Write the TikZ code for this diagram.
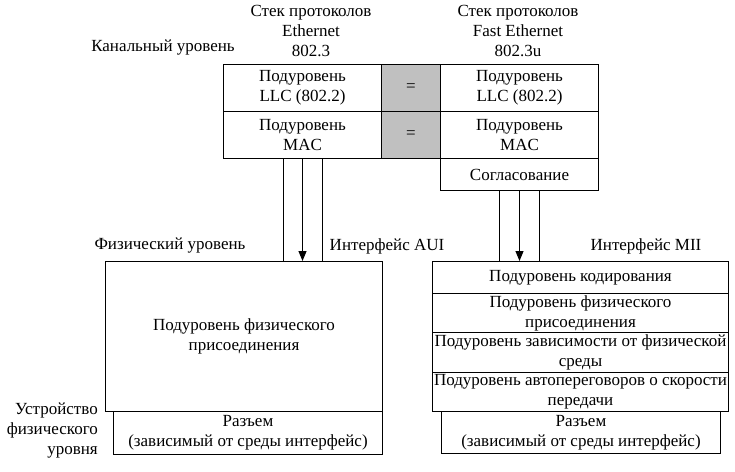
\documentclass[tikz,border=0pt]{standalone}
\usepackage{fontspec}
\setmainfont{Liberation Serif}
\usetikzlibrary{arrows.meta}
\definecolor{eqgray}{RGB}{192,192,192}
\begin{document}
\begin{tikzpicture}[x=1pt,y=-1pt,
  every node/.style={font=\fontsize{17}{20}\selectfont, text=black},
  box/.style={draw=black, line width=1pt, inner sep=0pt, anchor=north west},
  eqbox/.style={box, fill=eqgray},
  txt/.style={align=center, inner sep=0pt},
  wire/.style={draw=black, line width=1pt},
  arr/.style={wire, -{Triangle[width=8pt,length=10pt]}}
]
\useasboundingbox (0,0) rectangle (735,471);
% upper stacks
\node[box, minimum width=158, minimum height=47] (llcL) at (223,64) {};
\node[box, minimum width=158, minimum height=47] (macL) at (223,111) {};
\node[eqbox, minimum width=59, minimum height=47] (eq1) at (381,64) {};
\node[eqbox, minimum width=59, minimum height=47] (eq2) at (381,111) {};
\node[box, minimum width=158, minimum height=47] (llcR) at (440,64) {};
\node[box, minimum width=158, minimum height=47] (macR) at (440,111) {};
\node[box, minimum width=158, minimum height=32] (sogl) at (440,158) {};
\node[txt] (tllcL) at (llcL.center) {Подуровень\\LLC (802.2)};
\node[txt] (tmacL) at (macL.center) {Подуровень\\MAC};
\node[txt] (teq1) at (eq1.center) {=};
\node[txt] (teq2) at (eq2.center) {=};
\node[txt] (tllcR) at (llcR.center) {Подуровень\\LLC (802.2)};
\node[txt] (tmacR) at (macR.center) {Подуровень\\MAC};
\node[txt] (tsogl) at (sogl.center) {Согласование};
% headers and labels
\node[txt] (hdrL) at (311,31) {Стек протоколов\\Ethernet\\802.3};
\node[txt] (hdrR) at (518,31) {Стек протоколов\\Fast Ethernet\\802.3u};
\node[txt] (kanal) at (163,48) {Канальный уровень};
\node[txt] (fizL) at (170,246) {Физический уровень};
\node[txt] (aui) at (387,246) {Интерфейс AUI};
\node[txt] (mii) at (646,246) {Интерфейс MII};
\node[txt, align=right, anchor=east] (ustr) at (98,431) {Устройство\\физического\\уровня};
% left physical
\node[box, minimum width=277, minimum height=150] (physL) at (105,261) {};
\node[box, minimum width=269, minimum height=43] (connL) at (113,411) {};
\node[txt] (tphysL) at (physL.center) {Подуровень физического\\присоединения};
\node[txt] (tconnL) at (connL.center) {Разъем\\(зависимый от среды интерфейс)};
% right physical
\node[box, minimum width=296, minimum height=32] (cod) at (432,261) {};
\node[box, minimum width=296, minimum height=39] (pma) at (432,293) {};
\node[box, minimum width=296, minimum height=40] (pmd) at (432,332) {};
\node[box, minimum width=296, minimum height=39] (anr) at (432,372) {};
\node[box, minimum width=279, minimum height=42] (connR) at (441,411) {};
\node[txt] (tcod) at (cod.center) {Подуровень кодирования};
\node[txt] (tpma) at (pma.center) {Подуровень физического\\присоединения};
\node[txt] (tpmd) at (pmd.center) {Подуровень зависимости от физической\\среды};
\node[txt] (tanr) at (anr.center) {Подуровень автопереговоров о скорости\\передачи};
\node[txt] (tconnR) at (connR.center) {Разъем\\(зависимый от среды интерфейс)};
% interfaces
\draw[wire] ([xshift=-19pt]macL.south) -- ([xshift=-19pt]macL.south |- physL.north);
\draw[arr] (macL.south) -- (macL.south |- physL.north);
\draw[wire] ([xshift=20pt]macL.south) -- ([xshift=20pt]macL.south |- physL.north);
\draw[wire] ([xshift=-20pt]sogl.south) -- ([xshift=-20pt]sogl.south |- cod.north);
\draw[arr] (sogl.south) -- (sogl.south |- cod.north);
\draw[wire] ([xshift=20pt]sogl.south) -- ([xshift=20pt]sogl.south |- cod.north);
\end{tikzpicture}
\end{document}
